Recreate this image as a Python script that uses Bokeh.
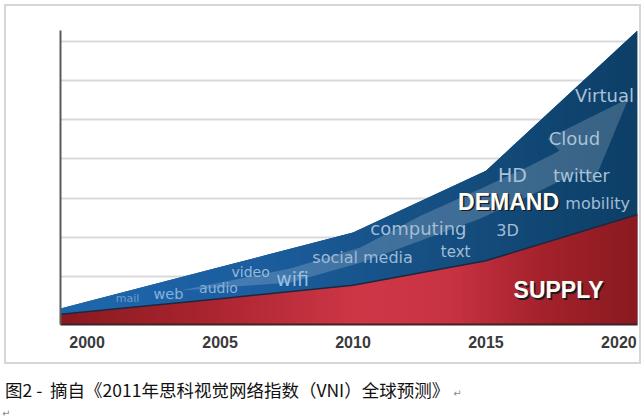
import base64
import struct
import zlib

import numpy as np
from bokeh.core.properties import value
from bokeh.embed import file_html
from bokeh.layouts import column
from bokeh.models import (ColumnDataSource, Div, FixedTicker, ImageURLTexture,
                          Range1d)
from bokeh.plotting import figure
from bokeh.resources import INLINE

# ---------------- data ----------------
years = [1999, 2005, 2010, 2015, 2020.7]
demand = [0.18, 1.24, 2.12, 3.70, 7.28]
supply = [0.03, 0.43, 0.77, 1.40, 2.58]
tick_years = [2000, 2005, 2010, 2015, 2020]

# decorative trend arrow (years, index values)
arrow_years = [2003.51, 2007.65, 2010.28, 2012.54, 2014.80, 2016.68, 2017.77,
               2017.32, 2020.36, 2019.05, 2018.59, 2017.05, 2014.80, 2012.54,
               2010.28, 2007.65]
arrow_vals = [0.64, 1.20, 1.74, 2.55, 3.24, 3.83, 4.21,
              4.52, 5.54, 3.40, 3.70, 3.19, 2.48, 1.91,
              1.35, 0.84]

# words written inside the demand area
word_text = ["mail", "web", "audio", "video", "wifi", "social media",
             "computing", "text", "3D", "HD", "twitter", "mobility",
             "Cloud", "Virtual"]
word_year = [2001.52, 2003.06, 2004.94, 2006.15, 2007.73, 2010.36,
             2012.46, 2013.86, 2015.81, 2016.00, 2018.59, 2019.20,
             2018.33, 2019.46]
word_val = [0.43, 0.56, 0.69, 1.10, 0.94, 1.48,
            2.22, 1.61, 2.17, 3.60, 3.57, 2.86,
            4.52, 5.62]
word_size = ["11px", "14.5px", "14px", "14px", "19px", "16px",
             "18px", "15px", "16px", "19px", "17px", "16px",
             "18px", "18px"]
word_color = ["#6f9fcf", "#86b2de", "#8ab3da", "#98bad9", "#98bfe3", "#9fbad3",
              "#a3bdd4", "#a3bdd4", "#a3bdd4", "#a9c2d8", "#a9c2d8", "#a3bdd4",
              "#a9c2d8", "#a9c2d8"]

big_text = ["DEMAND", "SUPPLY"]
big_year = [2015.85, 2017.73]
big_val = [2.91, 0.64]

caption = "图2 -&nbsp; 摘自《2011年思科视觉网络指数（VNI）全球预测》"

# ---------------- helpers for gradient textures ----------------
W, H = 637, 360          # chart box (grey frame drawn by CSS border)


def png_url(rgb):
    h, w, _ = rgb.shape
    raw = b"".join(b"\x00" + rgb[r].astype(np.uint8).tobytes() for r in range(h))

    def chunk(tag, data):
        c = struct.pack(">I", len(data)) + tag + data
        return c + struct.pack(">I", zlib.crc32(tag + data) & 0xFFFFFFFF)

    png = (b"\x89PNG\r\n\x1a\n"
           + chunk(b"IHDR", struct.pack(">IIBBBBB", w, h, 8, 2, 0, 0, 0))
           + chunk(b"IDAT", zlib.compress(raw))
           + chunk(b"IEND", b""))
    return "data:image/png;base64," + base64.b64encode(png).decode()


def hgrad(stops):
    xs = [s[0] for s in stops]
    cols = [tuple(int(s[1][i:i + 2], 16) for i in (1, 3, 5)) for s in stops]
    px = np.arange(W)
    img = np.zeros((2, W, 3))
    for ch in range(3):
        img[:, :, ch] = np.interp(px, xs, [c[ch] for c in cols])
    return png_url(img)


red_tex = ImageURLTexture(url=hgrad([(54, "#891a1f"), (194, "#a8242e"), (354, "#cf3747"),
                                     (444, "#c83343"), (534, "#a5222c"), (631, "#8a1a20")]),
                          repetition="repeat")
blue_tex = ImageURLTexture(url=hgrad([(54, "#1f67ad"), (244, "#1c5e9f"), (394, "#175287"),
                                      (494, "#134a79"), (631, "#0d3f67")]),
                           repetition="repeat")

# ---------------- chart figure ----------------
y0, y1 = -0.23, 7.28
p = figure(width=W, height=H, output_backend="svg", toolbar_location=None,
           x_range=Range1d(1999, 2020.7), y_range=Range1d(y0, y1),
           min_border_left=54, min_border_right=6, min_border_top=24,
           min_border_bottom=42)
p.margin = (4, 0, 0, 4)
p.styles = {"border": "2px solid #d6d6d6"}
p.outline_line_color = None
p.background_fill_color = "white"
p.border_fill_color = "white"

p.xgrid.visible = False
p.ygrid.ticker = FixedTicker(ticks=list(range(0, 8)))
p.ygrid.grid_line_color = "#d9d9d9"
p.ygrid.grid_line_width = 2

p.yaxis.ticker = FixedTicker(ticks=[])
p.yaxis.axis_line_color = "#5a5a5a"
p.yaxis.axis_line_width = 2
p.yaxis.major_tick_line_color = None
p.yaxis.minor_tick_line_color = None

p.xaxis.ticker = FixedTicker(ticks=tick_years)
p.xaxis.axis_line_color = "#3d2326"
p.xaxis.axis_line_width = 2
p.xaxis.major_tick_line_color = None
p.xaxis.minor_tick_line_color = None
p.xaxis.major_label_standoff = 5
p.xaxis.major_label_text_font = "Liberation Sans"
p.xaxis.major_label_text_font_style = "bold"
p.xaxis.major_label_text_font_size = "16px"
p.xaxis.major_label_text_color = "#3a3a3a"

base = [y0] * len(years)
src = ColumnDataSource(dict(x=years, demand=demand, supply=supply, base=base))

p.varea(x="x", y1="base", y2="demand", source=src, fill_color="#175287",
        hatch_pattern=value("bluegrad"), hatch_extra={"bluegrad": blue_tex})
p.patch(arrow_years, arrow_vals, fill_color="white", fill_alpha=0.18, line_color=None)
p.varea(x="x", y1="base", y2="supply", source=src, fill_color="#b82b36",
        hatch_pattern=value("redgrad"), hatch_extra={"redgrad": red_tex})
p.line(x="x", y="supply", source=src, line_color="#1c2740", line_width=1.5)

wsrc = ColumnDataSource(dict(x=word_year, y=word_val, t=word_text,
                             size=word_size, color=word_color))
p.text(x="x", y="y", text="t", source=wsrc, text_font=value("DejaVu Sans"),
       text_font_size="size", text_color="color", text_align="center",
       text_baseline="middle")

bsrc = ColumnDataSource(dict(x=big_year, y=big_val, t=big_text))
p.text(x="x", y="y", text="t", source=bsrc, text_font=value("Liberation Sans"),
       text_font_style="bold", text_font_size="23px", text_color="#1a1a22",
       text_align="center", text_baseline="middle", x_offset=1.5, y_offset=1.5)
p.text(x="x", y="y", text="t", source=bsrc, text_font=value("Liberation Sans"),
       text_font_style="bold", text_font_size="23px", text_color="#fffdf6",
       text_align="center", text_baseline="middle")

# ---------------- caption ----------------
mark = '<span style="font-family:\'DejaVu Sans\';font-size:10px;color:#8a8a8a">↵</span>'
cap_html = (
    '<div style="box-sizing:border-box;margin:0;padding:13px 0 0 5px;height:39px;'
    'line-height:26px;white-space:nowrap;font-family:\'Noto Sans CJK SC\';'
    'font-size:17.5px;color:#111">'
    + caption + '&nbsp;' + mark + '</div>'
    + '<div style="box-sizing:border-box;margin:0;padding:4px 0 0 2px;height:17px;'
    'line-height:13px;">' + mark + '</div>'
)
cap = Div(text=cap_html, width=643, height=56, margin=(0, 0, 0, 0))

layout = column(p, cap, spacing=0)
open("out.html", "w").write(file_html(layout, INLINE))
